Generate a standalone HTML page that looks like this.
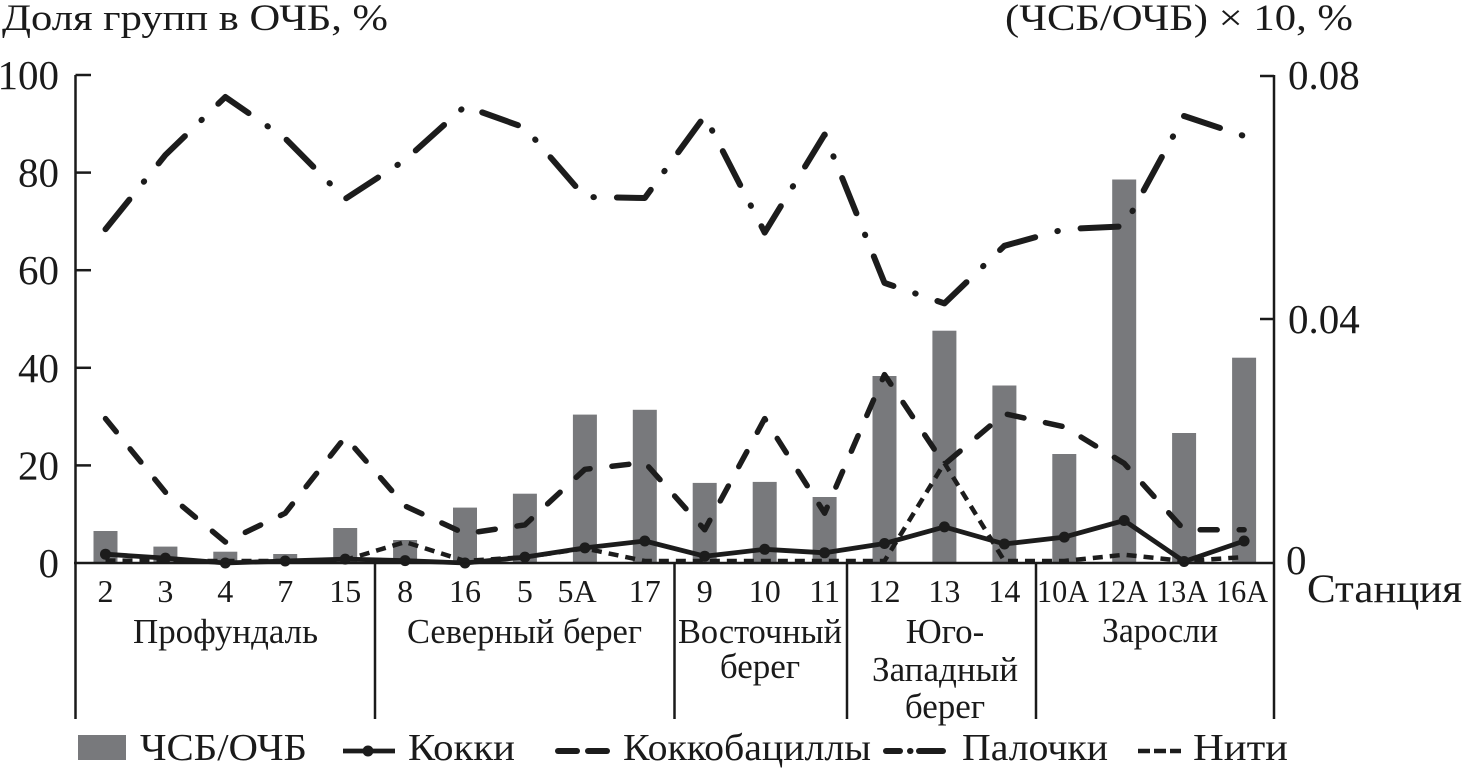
<!DOCTYPE html>
<html>
<head>
<meta charset="utf-8">
<style>
html,body{margin:0;padding:0;background:#fff;}
svg{display:block;}
text{font-family:"Liberation Serif","DejaVu Serif",serif;fill:#1a1a1a;}
</style>
</head>
<body>
<svg width="1465" height="773" viewBox="0 0 1465 773" xmlns="http://www.w3.org/2000/svg">
<rect width="1465" height="773" fill="#fff"/>

<!-- Axis titles -->
<text x="2" y="30" font-size="37" textLength="386" lengthAdjust="spacingAndGlyphs">Доля групп в ОЧБ, %</text>
<text x="1005" y="30" font-size="37" textLength="348" lengthAdjust="spacingAndGlyphs">(ЧСБ/ОЧБ) × 10, %</text>

<!-- Bars -->
<g fill="#78797c">
<rect x="93.5" y="531" width="24" height="32"/>
<rect x="153.4" y="546.6" width="24" height="16.4"/>
<rect x="213.3" y="551.7" width="24" height="11.3"/>
<rect x="273.2" y="554" width="24" height="9"/>
<rect x="333.2" y="528" width="24" height="35"/>
<rect x="393.1" y="540" width="24" height="23"/>
<rect x="453.0" y="507.6" width="24" height="55.4"/>
<rect x="512.9" y="493.7" width="24" height="69.3"/>
<rect x="572.9" y="414.6" width="24" height="148.4"/>
<rect x="632.8" y="409.8" width="24" height="153.2"/>
<rect x="692.7" y="482.9" width="24" height="80.1"/>
<rect x="752.7" y="481.9" width="24" height="81.1"/>
<rect x="812.6" y="497" width="24" height="66"/>
<rect x="872.5" y="376" width="24" height="187"/>
<rect x="932.4" y="330.7" width="24" height="232.3"/>
<rect x="992.4" y="385.5" width="24" height="177.5"/>
<rect x="1052.3" y="454" width="24" height="109"/>
<rect x="1112.2" y="179.5" width="24" height="383.5"/>
<rect x="1172.1" y="433" width="24" height="130"/>
<rect x="1232.1" y="357.7" width="24" height="205.3"/>
</g>

<!-- Series lines -->
<g fill="none" stroke="#1c1c1c" stroke-linejoin="round">
<!-- Палочки -->
<polyline stroke-width="6" stroke-linecap="round" stroke-dasharray="38 23 0.5 23"
 points="105.5,229.2 165.4,155.0 225.3,97.0 285.2,138.4 345.2,198.9 405.1,160 465.0,106.2 524.9,127.7 584.9,197.0 644.8,198.0 704.7,116.0 764.7,232.6 824.6,134.5 884.5,282.9 944.4,303.4 1004.4,245.8 1064.3,229.2 1124.2,226.3 1184.1,116.0 1244.1,136.0"/>
<!-- Коккобациллы -->
<polyline stroke-width="5.5" stroke-linecap="round" stroke-dasharray="17 22"
 points="105.5,418.6 165.4,492.2 225.3,542.0 285.2,513.2 345.2,437.1 405.1,506 465.0,533.7 524.9,524.9 584.9,469.3 644.8,462.5 704.7,529.8 764.7,418.6 824.6,513.2 884.5,374.6 944.4,464.4 1004.4,413.7 1064.3,426.8 1124.2,463.4 1184.1,529.8 1244.1,529.8"/>
<!-- Нити -->
<polyline stroke-width="4.5" stroke-linecap="butt" stroke-dasharray="10 7"
 points="105.5,560.5 165.4,561 225.3,561 285.2,561 345.2,560 405.1,542.0 465.0,561 524.9,557.1 584.9,548.4 644.8,561 704.7,561 764.7,561 824.6,561 884.5,561 944.4,463 1004.4,561 1064.3,561 1124.2,554.7 1184.1,561 1244.1,557.1"/>
<!-- Кокки -->
<polyline stroke-width="4.8" stroke-linecap="round"
 points="105.5,554.2 165.4,558.1 225.3,563 285.2,561.0 345.2,559.1 405.1,560.6 465.0,563 524.9,557.1 584.9,547.9 644.8,541.0 704.7,556.2 764.7,549.3 824.6,552.8 884.5,543.5 944.4,526.9 1004.4,544.0 1064.3,537.1 1124.2,520.5 1184.1,561.5 1244.1,541.0"/>
</g>
<g fill="#1c1c1c">
<circle cx="105.5" cy="554.2" r="5.5"/>
<circle cx="165.4" cy="558.1" r="5.5"/>
<circle cx="225.3" cy="563" r="5.5"/>
<circle cx="285.2" cy="561.0" r="5.5"/>
<circle cx="345.2" cy="559.1" r="5.5"/>
<circle cx="405.1" cy="560.6" r="5.5"/>
<circle cx="465.0" cy="563" r="5.5"/>
<circle cx="524.9" cy="557.1" r="5.5"/>
<circle cx="584.9" cy="547.9" r="5.5"/>
<circle cx="644.8" cy="541.0" r="5.5"/>
<circle cx="704.7" cy="556.2" r="5.5"/>
<circle cx="764.7" cy="549.3" r="5.5"/>
<circle cx="824.6" cy="552.8" r="5.5"/>
<circle cx="884.5" cy="543.5" r="5.5"/>
<circle cx="944.4" cy="526.9" r="5.5"/>
<circle cx="1004.4" cy="544.0" r="5.5"/>
<circle cx="1064.3" cy="537.1" r="5.5"/>
<circle cx="1124.2" cy="520.5" r="5.5"/>
<circle cx="1184.1" cy="561.5" r="5.5"/>
<circle cx="1244.1" cy="541.0" r="5.5"/>
</g>

<!-- Axes -->
<g stroke="#1a1a1a" stroke-width="2.5" fill="none">
<line x1="75.5" y1="75" x2="75.5" y2="719"/>
<line x1="1274" y1="75" x2="1274" y2="719"/>
<line x1="74" y1="563" x2="1275" y2="563"/>
<line x1="375" y1="563" x2="375" y2="719"/>
<line x1="674.5" y1="563" x2="674.5" y2="719"/>
<line x1="847" y1="563" x2="847" y2="719"/>
<line x1="1036" y1="563" x2="1036" y2="719"/>
<!-- left ticks -->
<line x1="75.5" y1="75" x2="91" y2="75"/>
<line x1="75.5" y1="172.6" x2="91" y2="172.6"/>
<line x1="75.5" y1="270.2" x2="91" y2="270.2"/>
<line x1="75.5" y1="367.8" x2="91" y2="367.8"/>
<line x1="75.5" y1="465.4" x2="91" y2="465.4"/>
<!-- right ticks -->
<line x1="1260" y1="76" x2="1274" y2="76"/>
<line x1="1260" y1="319" x2="1274" y2="319"/>
</g>

<!-- Left tick labels -->
<g font-size="41" text-anchor="end">
<text x="59" y="89">100</text>
<text x="59" y="186.6">80</text>
<text x="59" y="284.2">60</text>
<text x="59" y="381.8">40</text>
<text x="59" y="479.4">20</text>
<text x="59" y="577">0</text>
</g>
<!-- Right tick labels -->
<g font-size="41">
<text x="1288" y="89">0.08</text>
<text x="1288" y="333">0.04</text>
<text x="1286" y="574">0</text>
</g>

<!-- Category labels -->
<g font-size="32" text-anchor="middle">
<text x="105.5" y="602">2</text>
<text x="165.4" y="602">3</text>
<text x="225.3" y="602">4</text>
<text x="285.2" y="602">7</text>
<text x="345.2" y="602">15</text>
<text x="405.1" y="602">8</text>
<text x="465.0" y="602">16</text>
<text x="524.9" y="602">5</text>
<text x="577" y="602">5A</text>
<text x="644.8" y="602">17</text>
<text x="704.7" y="602">9</text>
<text x="764.7" y="602">10</text>
<text x="824.6" y="602">11</text>
<text x="884.5" y="602">12</text>
<text x="944.4" y="602">13</text>
<text x="1004.4" y="602">14</text>
<text x="1063" y="602" textLength="52" lengthAdjust="spacingAndGlyphs">10A</text>
<text x="1122" y="602" textLength="52" lengthAdjust="spacingAndGlyphs">12A</text>
<text x="1182" y="602" textLength="52" lengthAdjust="spacingAndGlyphs">13A</text>
<text x="1242" y="602" textLength="52" lengthAdjust="spacingAndGlyphs">16A</text>
</g>
<text x="1307" y="602" font-size="40" textLength="155" lengthAdjust="spacingAndGlyphs">Станция</text>

<!-- Group labels -->
<g font-size="35" text-anchor="middle">
<text x="225.5" y="643" textLength="185" lengthAdjust="spacingAndGlyphs">Профундаль</text>
<text x="524.5" y="643" textLength="235" lengthAdjust="spacingAndGlyphs">Северный берег</text>
<text x="760" y="643" textLength="164" lengthAdjust="spacingAndGlyphs">Восточный</text>
<text x="760" y="678">берег</text>
<text x="945" y="643">Юго-</text>
<text x="945" y="681" textLength="146" lengthAdjust="spacingAndGlyphs">Западный</text>
<text x="945" y="718">берег</text>
<text x="1160" y="642" textLength="116" lengthAdjust="spacingAndGlyphs">Заросли</text>
</g>

<!-- Legend -->
<rect x="78" y="735" width="48" height="25" fill="#78797c"/>
<text x="140" y="760" font-size="38" textLength="167" lengthAdjust="spacingAndGlyphs">ЧСБ/ОЧБ</text>
<line x1="343" y1="751" x2="395" y2="751" stroke="#1c1c1c" stroke-width="4.8"/>
<circle cx="368" cy="751" r="5.5" fill="#1c1c1c"/>
<text x="408" y="760" font-size="38" textLength="107" lengthAdjust="spacingAndGlyphs">Кокки</text>
<g stroke="#1c1c1c" stroke-width="6" stroke-linecap="round">
<line x1="558" y1="751" x2="577" y2="751"/>
<line x1="588" y1="751" x2="607" y2="751"/>
<line x1="886" y1="751" x2="900" y2="751"/>
<line x1="910" y1="751" x2="910.5" y2="751"/>
<line x1="919" y1="751" x2="943" y2="751"/>
</g>
<text x="623" y="760" font-size="38" textLength="248" lengthAdjust="spacingAndGlyphs">Коккобациллы</text>
<text x="962" y="760" font-size="38" textLength="146" lengthAdjust="spacingAndGlyphs">Палочки</text>
<g stroke="#1c1c1c" stroke-width="4.5">
<line x1="1138" y1="751" x2="1150" y2="751"/>
<line x1="1154" y1="751" x2="1166" y2="751"/>
<line x1="1170" y1="751" x2="1181" y2="751"/>
</g>
<text x="1193" y="760" font-size="38" textLength="95" lengthAdjust="spacingAndGlyphs">Нити</text>
</svg>
</body>
</html>
